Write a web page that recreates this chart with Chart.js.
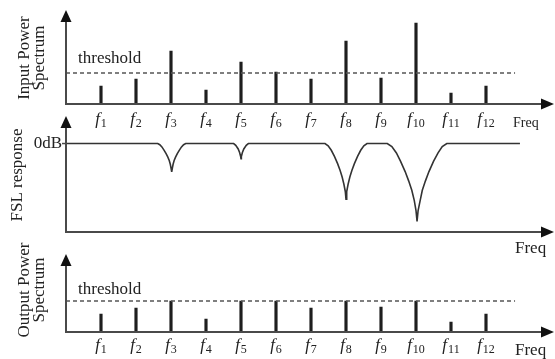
<!DOCTYPE html>
<html>
<head>
<meta charset="utf-8">
<script src="https://cdn.jsdelivr.net/npm/chart.js@4.4.1/dist/chart.umd.min.js"></script>
<style>
  body { margin: 0; background: #fff; }
  #wrap { position: relative; width: 555px; height: 359px; overflow: hidden; }
  canvas { position: absolute; left: 0; }
</style>
</head>
<body>
<div id="wrap">
  <canvas id="inChart" width="555" height="133" style="top:0px"></canvas>
  <canvas id="fslChart" width="555" height="150" style="top:110px"></canvas>
  <canvas id="outChart" width="555" height="129" style="top:230px"></canvas>
</div>
<script>
// frequencies f1..f12
const freqIdx = [1, 2, 3, 4, 5, 6, 7, 8, 9, 10, 11, 12];
const freqSubs = ['1', '2', '3', '4', '5', '6', '7', '8', '9', '10', '11', '12'];

// power levels (arbitrary units)
const inputPower = [18, 25, 53, 14, 42, 32, 25, 63, 26, 81, 11, 18];
const outputPower = [18, 24, 31, 13, 31, 31, 24, 31, 25, 31, 10, 18];
const threshold = 31;
const thresholdEnd = 12.83;

// FSL response curve (0 = 0dB, -1 = bottom of axis)
const fslX = [0,
  2.62, 2.68, 2.74, 2.80, 2.86, 2.91, 2.95, 2.98, 3.00, 3.02, 3.04, 3.06, 3.09, 3.13, 3.18, 3.24, 3.30, 3.36, 3.42,
  4.79, 4.85, 4.92, 4.96, 4.99, 5.00, 5.01, 5.04, 5.08, 5.15, 5.21,
  7.40, 7.49, 7.58, 7.67, 7.76, 7.83, 7.89, 7.94, 7.98, 8.00, 8.02, 8.06, 8.11, 8.17, 8.24, 8.33, 8.42, 8.51, 8.60,
  9.18, 9.31, 9.44, 9.56, 9.69, 9.79, 9.88, 9.95, 10.00, 10.03, 10.06, 10.12, 10.18, 10.27, 10.37, 10.50, 10.63, 10.75, 10.88,
  12.97];
const fslY = [0,
  0, -0.013, -0.038, -0.074, -0.115, -0.154, -0.192, -0.234, -0.275, -0.32, -0.275, -0.234, -0.192, -0.154, -0.115, -0.074, -0.038, -0.013, 0,
  0, -0.02, -0.061, -0.102, -0.146, -0.17, -0.146, -0.102, -0.061, -0.02, 0,
  0, -0.025, -0.076, -0.145, -0.227, -0.302, -0.378, -0.46, -0.542, -0.63, -0.542, -0.46, -0.378, -0.302, -0.227, -0.145, -0.076, -0.025, 0,
  0, -0.035, -0.106, -0.202, -0.317, -0.422, -0.528, -0.642, -0.757, -0.88, -0.757, -0.642, -0.528, -0.422, -0.317, -0.202, -0.106, -0.035, 0,
  0];

const SERIF = '"Liberation Serif", "Times New Roman", serif';
const TXT = '#222';
const AXIS = '#4a4a4a';

// draws axes with arrows, f-labels, titles etc.
function decorPlugin(cfg) {
  return {
    id: 'decor',
    afterDraw(chart) {
      const ctx = chart.ctx;
      const a = chart.chartArea;
      const xs = chart.scales.x;
      const x0 = a.left, yb = a.bottom;
      ctx.save();
      ctx.strokeStyle = AXIS;
      ctx.fillStyle = '#111';
      ctx.lineWidth = 2;
      // y axis
      ctx.beginPath();
      ctx.moveTo(x0, yb + 1);
      ctx.lineTo(x0, a.top + 10);
      ctx.stroke();
      ctx.beginPath();
      ctx.moveTo(x0, a.top - 1);
      ctx.lineTo(x0 - 5.5, a.top + 11);
      ctx.lineTo(x0 + 5.5, a.top + 11);
      ctx.closePath();
      ctx.fill();
      // x axis
      ctx.beginPath();
      ctx.moveTo(x0 - 1, yb);
      ctx.lineTo(542, yb);
      ctx.stroke();
      ctx.beginPath();
      ctx.moveTo(554, yb);
      ctx.lineTo(541, yb - 5.5);
      ctx.lineTo(541, yb + 5.5);
      ctx.closePath();
      ctx.fill();

      ctx.fillStyle = TXT;
      ctx.textBaseline = 'alphabetic';
      // f tick labels
      if (cfg.tickOffset) {
        freqIdx.forEach((v, i) => {
          const px = xs.getPixelForValue(v);
          ctx.font = 'italic 17px ' + SERIF;
          const wf = ctx.measureText('f').width;
          ctx.font = '12px ' + SERIF;
          const ws = ctx.measureText(freqSubs[i]).width;
          const left = px - (wf + ws + 1) / 2;
          ctx.font = 'italic 17px ' + SERIF;
          ctx.textAlign = 'left';
          ctx.fillText('f', left, yb + cfg.tickOffset);
          ctx.font = '12px ' + SERIF;
          ctx.fillText(freqSubs[i], left + wf + 1, yb + cfg.tickOffset + 3);
        });
      }
      // Freq label
      ctx.textAlign = 'left';
      ctx.font = cfg.freqSize + 'px ' + SERIF;
      ctx.fillText('Freq', cfg.freqX, cfg.freqY);
      // threshold text
      if (cfg.threshY) {
        ctx.font = '17px ' + SERIF;
        ctx.fillText('threshold', 78, cfg.threshY);
      }
      // 0dB label
      if (cfg.zeroDb) {
        const py = chart.scales.y.getPixelForValue(0);
        ctx.strokeStyle = AXIS;
        ctx.lineWidth = 1.5;
        ctx.beginPath();
        ctx.moveTo(x0 - 4, py);
        ctx.lineTo(x0, py);
        ctx.stroke();
        ctx.font = '17px ' + SERIF;
        ctx.textAlign = 'right';
        ctx.textBaseline = 'middle';
        ctx.fillText('0dB', x0 - 4, py);
      }
      // rotated title
      ctx.save();
      ctx.translate(0, cfg.titleY);
      ctx.rotate(-Math.PI / 2);
      ctx.font = '17px ' + SERIF;
      ctx.textAlign = 'center';
      ctx.textBaseline = 'middle';
      cfg.title.forEach((line, i) => {
        ctx.fillText(line, 0, cfg.titleX[i]);
      });
      ctx.restore();
      ctx.restore();
    }
  };
}

function stemChart(id, values, pad, ymax, decor) {
  return new Chart(document.getElementById(id), {
    data: {
      datasets: [
        {
          type: 'line',
          data: [{ x: 0, y: threshold }, { x: thresholdEnd, y: threshold }],
          borderColor: '#555',
          borderWidth: 1.3,
          borderDash: [4, 3],
          pointRadius: 0,
          fill: false
        },
        {
          type: 'bar',
          data: freqIdx.map((f, i) => ({ x: f, y: values[i] })),
          backgroundColor: '#1e1e1e',
          barThickness: 2.5
        }
      ]
    },
    options: {
      responsive: false,
      animation: false,
      events: [],
      layout: { padding: pad },
      scales: {
        x: { type: 'linear', min: 0, max: 13.9, offset: false, display: false },
        y: { type: 'linear', min: 0, max: ymax, display: false }
      },
      plugins: { legend: { display: false }, tooltip: { enabled: false } }
    },
    plugins: [decorPlugin(decor)]
  });
}

stemChart('inChart', inputPower, { left: 66, right: 2.5, top: 11, bottom: 29 }, 93, {
  tickOffset: 20, freqSize: 14, freqX: 513, freqY: 127, threshY: 63,
  title: ['Input Power', 'Spectrum'], titleX: [25, 40], titleY: 58
});

new Chart(document.getElementById('fslChart'), {
  type: 'line',
  data: {
    datasets: [{
      data: fslX.map((x, i) => ({ x: x, y: fslY[i] })),
      borderColor: '#333',
      borderWidth: 1.6,
      pointRadius: 0,
      tension: 0,
      fill: false
    }]
  },
  options: {
    responsive: false,
    animation: false,
    events: [],
    layout: { padding: { left: 66, right: 2.5, top: 7, bottom: 28 } },
    scales: {
      x: { type: 'linear', min: 0, max: 13.9, display: false },
      y: { type: 'linear', min: -1, max: 0.3, display: false }
    },
    plugins: { legend: { display: false }, tooltip: { enabled: false } }
  },
  plugins: [decorPlugin({
    freqSize: 17, freqX: 515, freqY: 143, zeroDb: true,
    title: ['FSL response'], titleX: [18], titleY: 65
  })]
});

stemChart('outChart', outputPower, { left: 66, right: 2.5, top: 25, bottom: 27 }, 77, {
  tickOffset: 18, freqSize: 17, freqX: 515, freqY: 125, threshY: 64,
  title: ['Output Power', 'Spectrum'], titleX: [25, 40], titleY: 60
});
</script>
</body>
</html>
